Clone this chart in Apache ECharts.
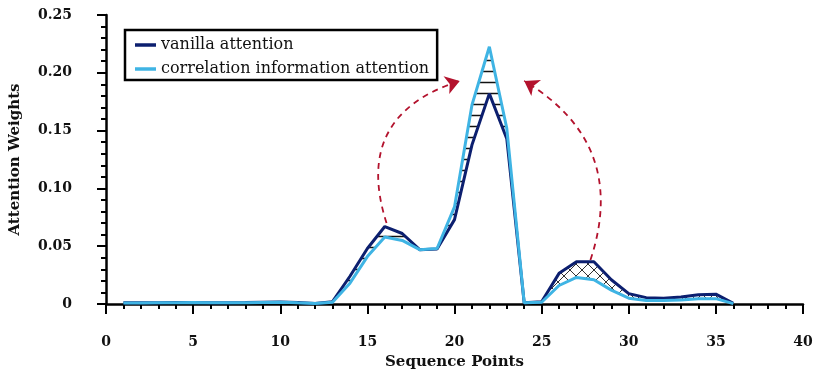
<!DOCTYPE html>
<html>
<head>
<meta charset="utf-8">
<script src="https://cdn.jsdelivr.net/npm/echarts@6/dist/echarts.min.js"></script>
<style>
  html, body { margin: 0; padding: 0; background: #fff; }
  #chart { width: 830px; height: 381px; }
</style>
</head>
<body>
<div id="chart"></div>
<script>
// sequence points 1..36
const seqPoints = [1, 2, 3, 4, 5, 6, 7, 8, 9, 10, 11, 12, 13, 14, 15, 16, 17, 18,
  19, 20, 21, 22, 23, 24, 25, 26, 27, 28, 29, 30, 31, 32, 33, 34, 35, 36];

const vanilla = [0.001, 0.001, 0.001, 0.0012, 0.0013, 0.001, 0.001, 0.0012, 0.0015, 0.0018, 0.0012, 0.0005,
  0.002, 0.024, 0.048, 0.067, 0.061, 0.047, 0.0475, 0.073, 0.1375, 0.182, 0.143, 0.001,
  0.002, 0.0265, 0.0366, 0.0366, 0.021, 0.009, 0.0055, 0.005, 0.006, 0.008, 0.0085, 0.0005];

const corrInfo = [0.0008, 0.0009, 0.001, 0.0011, 0.0012, 0.001, 0.001, 0.0011, 0.0014, 0.0016, 0.001, 0.0005,
  0.0015, 0.018, 0.041, 0.058, 0.055, 0.047, 0.048, 0.084, 0.172, 0.2225, 0.152, 0.001,
  0.0015, 0.016, 0.023, 0.021, 0.012, 0.005, 0.003, 0.003, 0.0035, 0.0046, 0.0046, 0.0003];

// shaded gaps between the two curves (sequence point ranges)
const hatchRegions = [
  { from: 13, to: 18, pattern: 'lines' },
  { from: 18, to: 24, pattern: 'lines' },
  { from: 24, to: 36, pattern: 'cross' }
];

// dashed arrows: start / end in data coords
const arrowLeft = { from: [16.1, 0.070], to: [20.3, 0.193], curveness: 0.5 };
const arrowRight = { from: [27.8, 0.038], to: [24.0, 0.193], curveness: -0.4 };

const FONT = 'DejaVu Serif';
const NAVY = '#0c1f6f';
const SKY = '#3fb4e4';
const RED = '#b3122d';

const makePattern = (type) => {
  const c = document.createElement('canvas');
  const ctx = c.getContext('2d');
  if (type === 'lines') {
    c.width = 8; c.height = 11;
    ctx.strokeStyle = '#111';
    ctx.lineWidth = 1.5;
    ctx.beginPath();
    ctx.moveTo(0, 5.5); ctx.lineTo(8, 5.5);
    ctx.stroke();
  } else {
    c.width = 12; c.height = 12;
    ctx.strokeStyle = '#333';
    ctx.lineWidth = 1;
    ctx.beginPath();
    ctx.moveTo(0, 0); ctx.lineTo(12, 12);
    ctx.moveTo(12, 0); ctx.lineTo(0, 12);
    ctx.stroke();
  }
  return c;
};
const patterns = {
  lines: { image: makePattern('lines'), repeat: 'repeat' },
  cross: { image: makePattern('cross'), repeat: 'repeat' }
};

// polygon between the two curves for one region
const renderHatch = (params, api) => {
  const r = hatchRegions[params.dataIndex];
  const top = [];
  const bottom = [];
  seqPoints.forEach((x, k) => {
    if (x < r.from || x > r.to) return;
    top.push(api.coord([x, Math.max(vanilla[k], corrInfo[k])]));
    bottom.push(api.coord([x, Math.min(vanilla[k], corrInfo[k])]));
  });
  return {
    type: 'polygon',
    shape: { points: top.concat(bottom.reverse()) },
    style: { fill: patterns[r.pattern], stroke: null }
  };
};

const arrowSeries = [arrowLeft, arrowRight].map((a, i) => ({
  name: 'arrow' + i,
  type: 'lines',
  coordinateSystem: 'cartesian2d',
  silent: true,
  symbol: ['none', 'arrow'],
  symbolSize: 14,
  lineStyle: { color: RED, type: [6, 5], width: 1.8, curveness: a.curveness, opacity: 1 },
  itemStyle: { color: RED },
  data: [{ coords: [a.from, a.to] }],
  z: 5
}));

const chart = echarts.init(document.getElementById('chart'));

const option = {
  backgroundColor: '#fff',
  animation: false,
  textStyle: { fontFamily: FONT },
  grid: { left: 105, right: 27, top: 15, bottom: 77 },
  legend: {
    data: ['vanilla attention', 'correlation information attention'],
    orient: 'vertical',
    left: 125,
    top: 30,
    padding: [7, 8, 3, 10],
    itemGap: 8,
    itemWidth: 21,
    itemHeight: 3.5,
    icon: 'rect',
    borderColor: '#000',
    borderWidth: 2.5,
    borderRadius: 0,
    backgroundColor: '#fff',
    textStyle: { fontFamily: FONT, fontSize: 16, color: '#111' }
  },
  xAxis: {
    type: 'value',
    min: 0,
    max: 40,
    interval: 5,
    offset: 18,
    name: 'Sequence Points',
    nameLocation: 'middle',
    nameGap: 33,
    nameTextStyle: { fontFamily: FONT, fontSize: 15, fontWeight: 'bold', color: '#111' },
    axisLine: { lineStyle: { color: '#000', width: 2.5 } },
    axisTick: { length: 10, lineStyle: { color: '#000', width: 2 } },
    minorTick: { show: true, splitNumber: 5, length: 5, lineStyle: { color: '#000', width: 2 } },
    axisLabel: { margin: 13, fontFamily: FONT, fontSize: 14, fontWeight: 'bold', color: '#111' },
    splitLine: { show: false }
  },
  yAxis: {
    type: 'value',
    min: 0,
    max: 0.25,
    interval: 0.05,
    offset: 17,
    name: 'Attention Weights',
    nameLocation: 'middle',
    nameGap: 66,
    nameTextStyle: { fontFamily: FONT, fontSize: 15, fontWeight: 'bold', color: '#111' },
    axisLine: { show: true, lineStyle: { color: '#000', width: 2.5 } },
    axisTick: { show: true, length: 9, lineStyle: { color: '#000', width: 2 } },
    minorTick: { show: true, splitNumber: 5, length: 5, lineStyle: { color: '#000', width: 2 } },
    axisLabel: {
      margin: 17,
      fontFamily: FONT,
      fontSize: 14,
      fontWeight: 'bold',
      color: '#111',
      formatter: (v) => (v === 0 ? '0' : v.toFixed(2))
    },
    splitLine: { show: false }
  },
  series: [
    {
      name: 'hatch',
      type: 'custom',
      silent: true,
      renderItem: renderHatch,
      data: hatchRegions.map(r => [r.from, r.to]),
      encode: { x: [0, 1] },
      z: 1
    },
    {
      name: 'vanilla attention',
      type: 'line',
      data: seqPoints.map((x, k) => [x, vanilla[k]]),
      symbol: 'none',
      color: NAVY,
      lineStyle: { color: NAVY, width: 3 },
      z: 3
    },
    {
      name: 'correlation information attention',
      type: 'line',
      data: seqPoints.map((x, k) => [x, corrInfo[k]]),
      symbol: 'none',
      color: SKY,
      lineStyle: { color: SKY, width: 3 },
      z: 4
    },
    ...arrowSeries
  ]
};

chart.setOption(option);
</script>
</body>
</html>
